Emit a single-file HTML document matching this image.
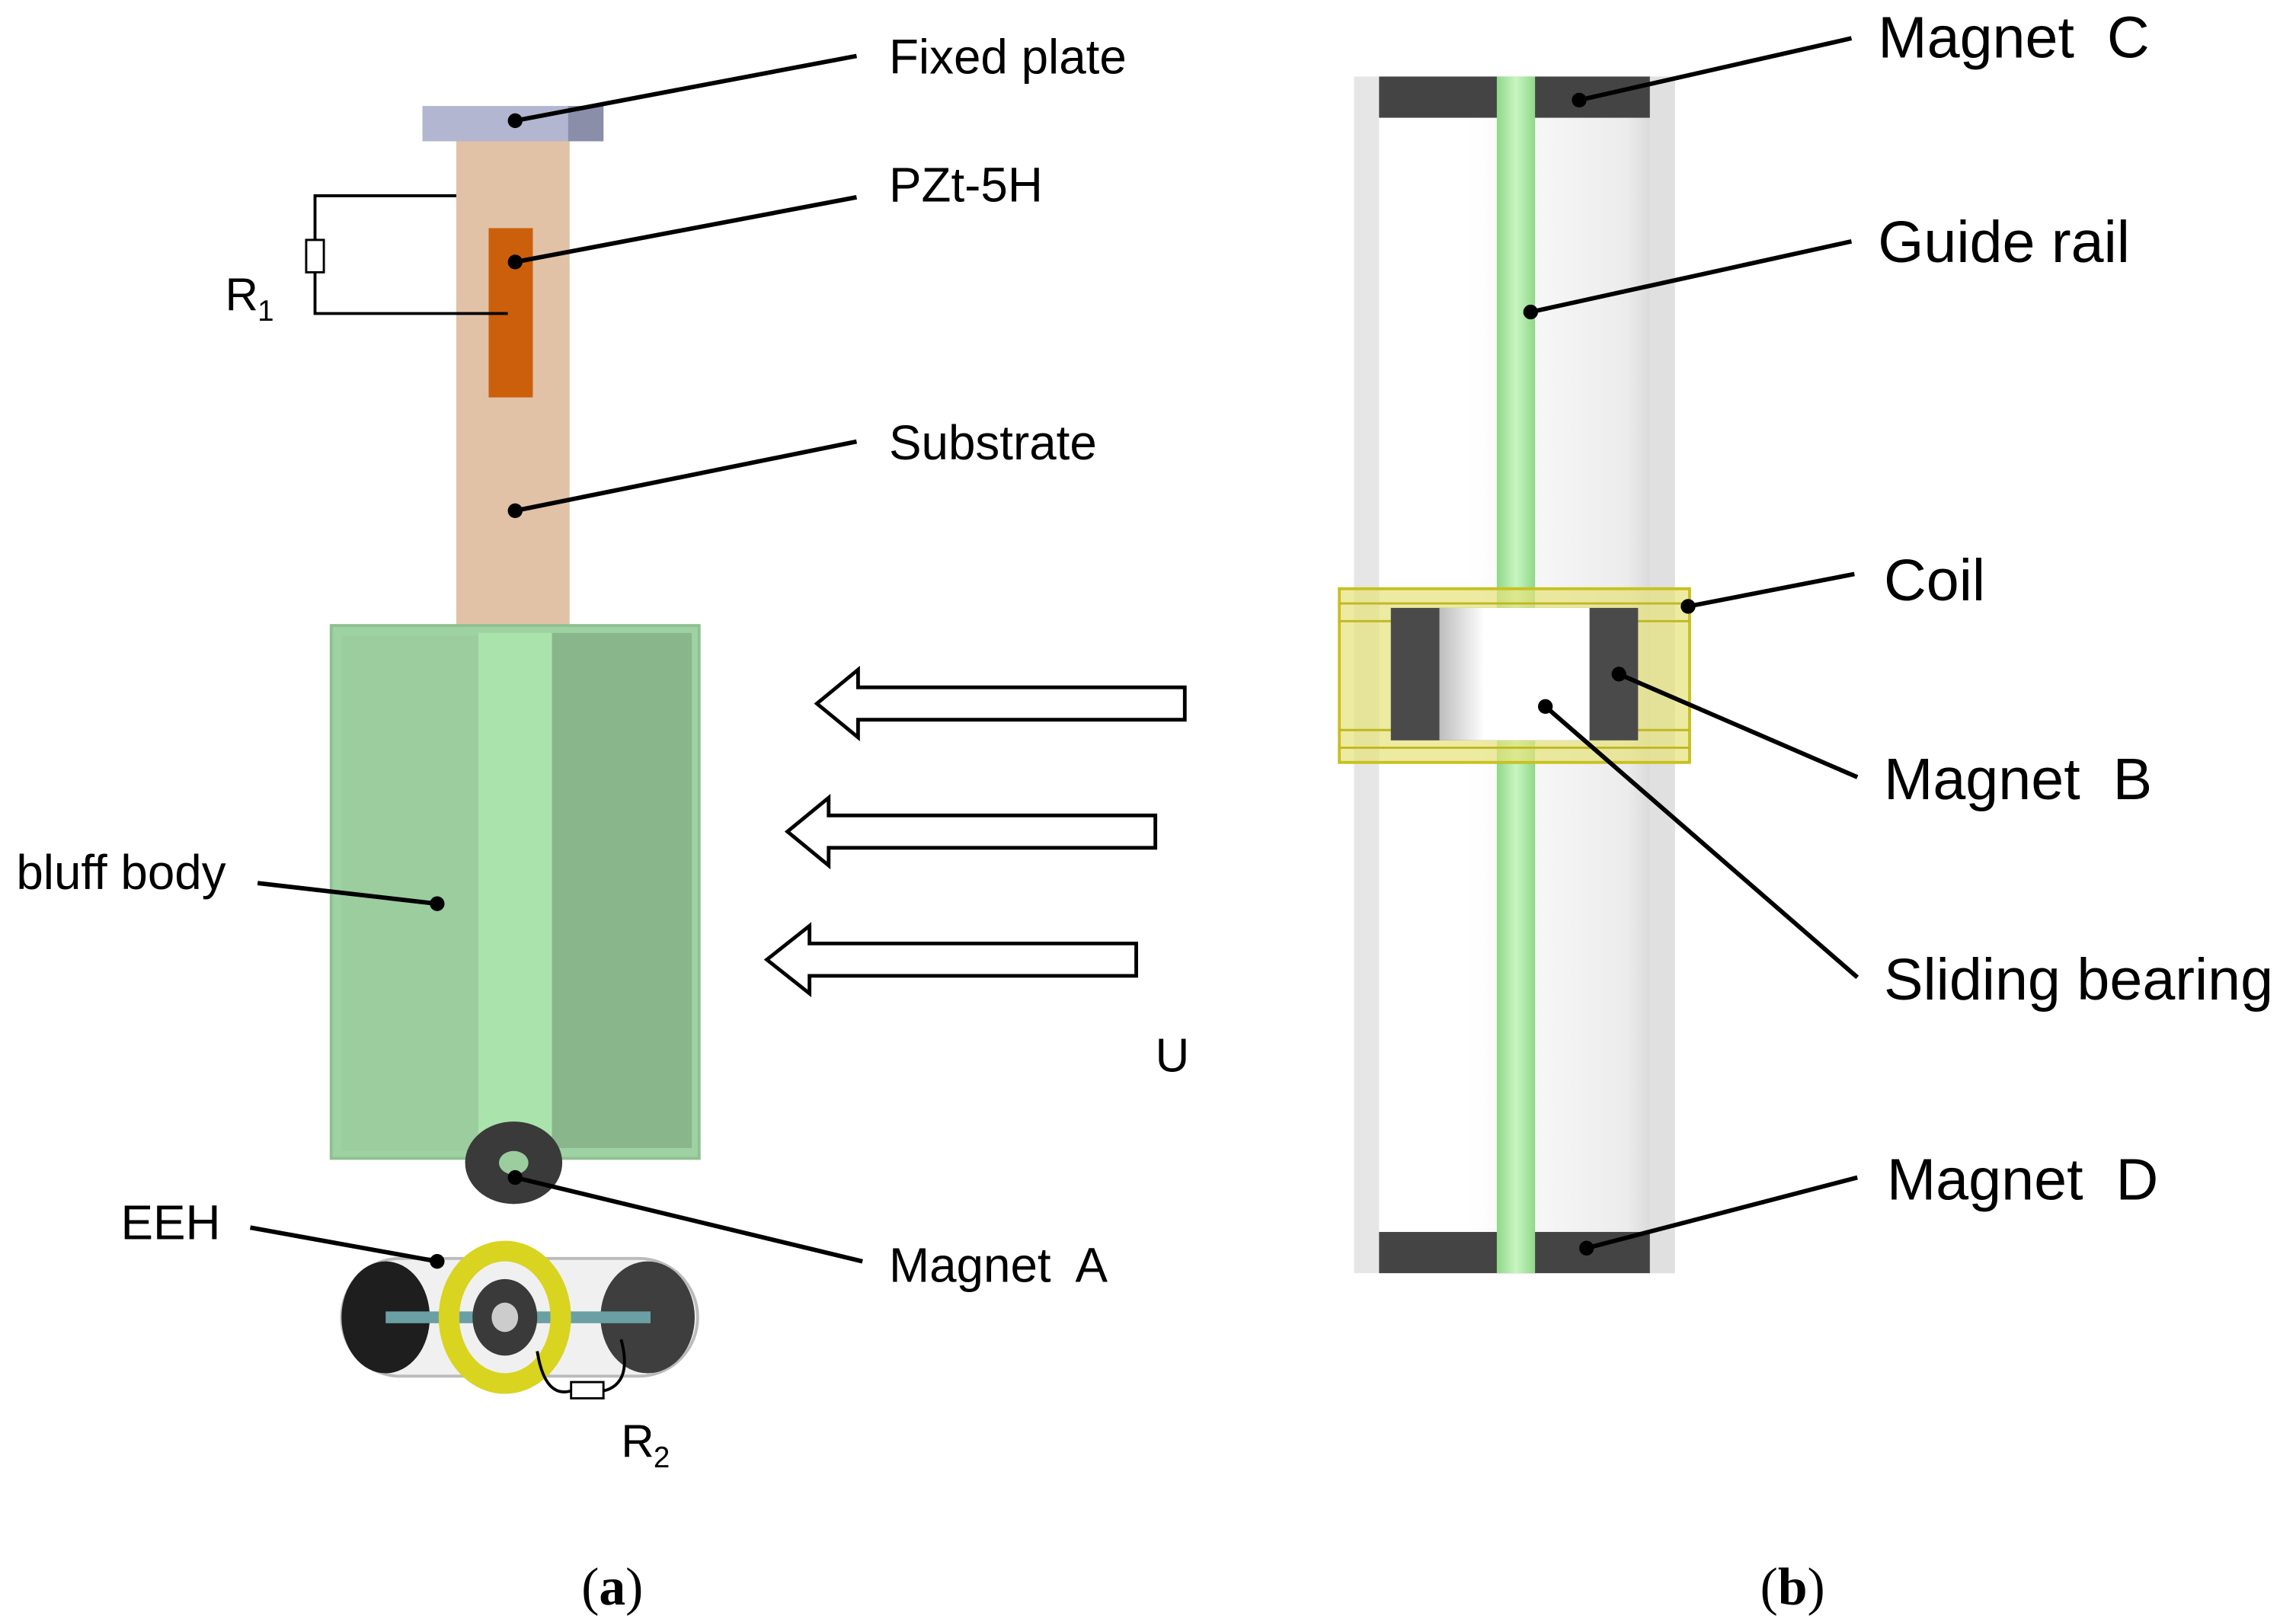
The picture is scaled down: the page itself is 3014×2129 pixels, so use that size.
<!DOCTYPE html>
<html><head><meta charset="utf-8"><style>
html,body{margin:0;padding:0;background:#fff;}
svg{display:block;}
text{font-family:"Liberation Sans",sans-serif;fill:#000;}
</style></head><body>
<svg width="3014" height="2129" viewBox="0 0 1560 1102" xmlns="http://www.w3.org/2000/svg">
<defs>
<linearGradient id="tube" x1="0" x2="1" y1="0" y2="0">
<stop offset="0" stop-color="#ffffff"/><stop offset="0.35" stop-color="#ffffff"/><stop offset="0.85" stop-color="#ececec"/><stop offset="1" stop-color="#c8c8c8"/>
</linearGradient>
<linearGradient id="bear" x1="0" x2="1">
<stop offset="0" stop-color="#bdbdbd"/><stop offset="0.3" stop-color="#fff"/><stop offset="1" stop-color="#fff"/>
</linearGradient>
<linearGradient id="rail" x1="0" x2="1">
<stop offset="0" stop-color="#8fd88a"/><stop offset="0.5" stop-color="#c8f5c0"/><stop offset="1" stop-color="#8fd88a"/>
</linearGradient>
</defs>
<rect width="1560" height="1102" fill="#fff"/>

<rect x="287" y="72" width="123" height="24" fill="#b3b6d0"/>
<rect x="386" y="72" width="24" height="24" fill="#8a8ea8"/>
<rect x="310" y="96" width="77" height="332" fill="#e1c2a6"/>
<rect x="332" y="155" width="30" height="115" fill="#cc5f0c"/>
<polyline points="310,133 214,133 214,213 345,213" fill="none" stroke="#000" stroke-width="2"/>
<rect x="208" y="163" width="12" height="22" fill="#fff" stroke="#000" stroke-width="1.5"/>
<text x="153" y="211" font-size="31">R</text><text x="175" y="218" font-size="20">1</text>

<rect x="225" y="425" width="250" height="362" fill="#9fd2a2" stroke="#8fc092" stroke-width="2"/>
<rect x="232" y="432" width="93" height="350" fill="#9bcd9e"/>
<rect x="325" y="430" width="50" height="355" fill="#aae3ac"/>
<rect x="375" y="430" width="95" height="350" fill="#8ab68c"/>
<ellipse cx="349" cy="790" rx="33" ry="28" fill="#3a3a3a"/>
<ellipse cx="349" cy="790" rx="10" ry="8" fill="#9bcd9e"/>

<rect x="232" y="855" width="242" height="80" rx="40" fill="#f0f0f0" stroke="#bbb" stroke-width="2"/>
<ellipse cx="262" cy="895" rx="30" ry="38" fill="#1e1e1e"/>
<ellipse cx="440" cy="895" rx="32" ry="38" fill="#3e3e3e"/>
<rect x="262" y="891" width="180" height="8" fill="#6aa0a4"/>
<ellipse cx="343" cy="895" rx="38" ry="45" fill="none" stroke="#d8d420" stroke-width="14"/>
<ellipse cx="343" cy="895" rx="22" ry="26" fill="#3a3a3a"/>
<ellipse cx="343" cy="895" rx="9" ry="10" fill="#ccc"/>
<path d="M365,918 Q370,950 388,945 M410,945 Q430,940 422,910" fill="none" stroke="#000" stroke-width="2"/>
<rect x="388" y="939" width="22" height="11" fill="#fff" stroke="#000" stroke-width="1.5"/>
<text x="422" y="990" font-size="31">R</text><text x="444" y="997" font-size="20">2</text>

<g fill="#fff" stroke="#000" stroke-width="2.5">
<polygon points="805,467 583,467 583,455 555,478 583,501 583,489 805,489"/>
<polygon points="785,554 563,554 563,542 535,565 563,588 563,576 785,576"/>
<polygon points="772,641 550,641 550,629 521,652 550,675 550,663 772,663"/>
</g>
<text x="785" y="728" font-size="32">U</text>

<rect x="920" y="52" width="218" height="813" fill="url(#tube)"/>
<rect x="920" y="52" width="17" height="813" fill="#e6e6e6"/>
<rect x="1121" y="52" width="17" height="813" fill="#e0e0e0"/>
<rect x="937" y="52" width="184" height="28" fill="#444"/>
<rect x="937" y="837" width="184" height="28" fill="#444"/>
<rect x="1017" y="52" width="26" height="813" fill="url(#rail)"/>
<rect x="910" y="400" width="238" height="118" fill="#e6e27a" fill-opacity="0.7" stroke="#c8c020" stroke-width="2"/>
<g stroke="#c0b820" stroke-width="1.5">
<line x1="910" y1="410" x2="1148" y2="410"/><line x1="910" y1="422" x2="1148" y2="422"/>
<line x1="910" y1="496" x2="1148" y2="496"/><line x1="910" y1="508" x2="1148" y2="508"/>
</g>
<rect x="945" y="413" width="168" height="90" fill="#4a4a4a"/>
<rect x="978" y="413" width="102" height="90" fill="url(#bear)"/>

<g stroke="#000" stroke-width="3" fill="none">
<line x1="350" y1="82" x2="582" y2="38"/>
<line x1="350" y1="178" x2="582" y2="134"/>
<line x1="350" y1="347" x2="582" y2="300"/>
<line x1="175" y1="600" x2="297" y2="614"/>
<line x1="350" y1="800" x2="586" y2="857"/>
<line x1="170" y1="834" x2="297" y2="857"/>
<line x1="1073" y1="68" x2="1258" y2="26"/>
<line x1="1040" y1="212" x2="1258" y2="164"/>
<line x1="1147" y1="412" x2="1260" y2="390"/>
<line x1="1100" y1="458" x2="1262" y2="528"/>
<line x1="1050" y1="480" x2="1262" y2="664"/>
<line x1="1078" y1="848" x2="1262" y2="800"/>
</g>
<g fill="#000">
<circle cx="350" cy="82" r="5"/><circle cx="350" cy="178" r="5"/><circle cx="350" cy="347" r="5"/>
<circle cx="297" cy="614" r="5"/><circle cx="350" cy="800" r="5"/><circle cx="297" cy="857" r="5"/>
<circle cx="1073" cy="68" r="5"/><circle cx="1040" cy="212" r="5"/><circle cx="1147" cy="412" r="5"/>
<circle cx="1100" cy="458" r="5"/><circle cx="1050" cy="480" r="5"/><circle cx="1078" cy="848" r="5"/>
</g>
<g font-size="33">
<text x="604" y="50">Fixed plate</text>
<text x="604" y="137">PZt-5H</text>
<text x="604" y="312">Substrate</text>
<text x="11" y="604">bluff body</text>
<text x="604" y="871">Magnet&#160; A</text>
<text x="82" y="842">EEH</text>
</g>
<g font-size="40">
<text x="1276" y="39">Magnet&#160; C</text>
<text x="1276" y="178">Guide rail</text>
<text x="1280" y="408">Coil</text>
<text x="1280" y="543">Magnet&#160; B</text>
<text x="1280" y="679">Sliding bearing</text>
<text x="1282" y="815">Magnet&#160; D</text>
</g>
<g font-size="36">
<text x="395" y="1090" style="font-family:'Liberation Serif',serif">(<tspan font-weight="bold">a</tspan>)</text>
<text x="1196" y="1090" style="font-family:'Liberation Serif',serif">(<tspan font-weight="bold">b</tspan>)</text>
</g>
</svg>
</body></html>
